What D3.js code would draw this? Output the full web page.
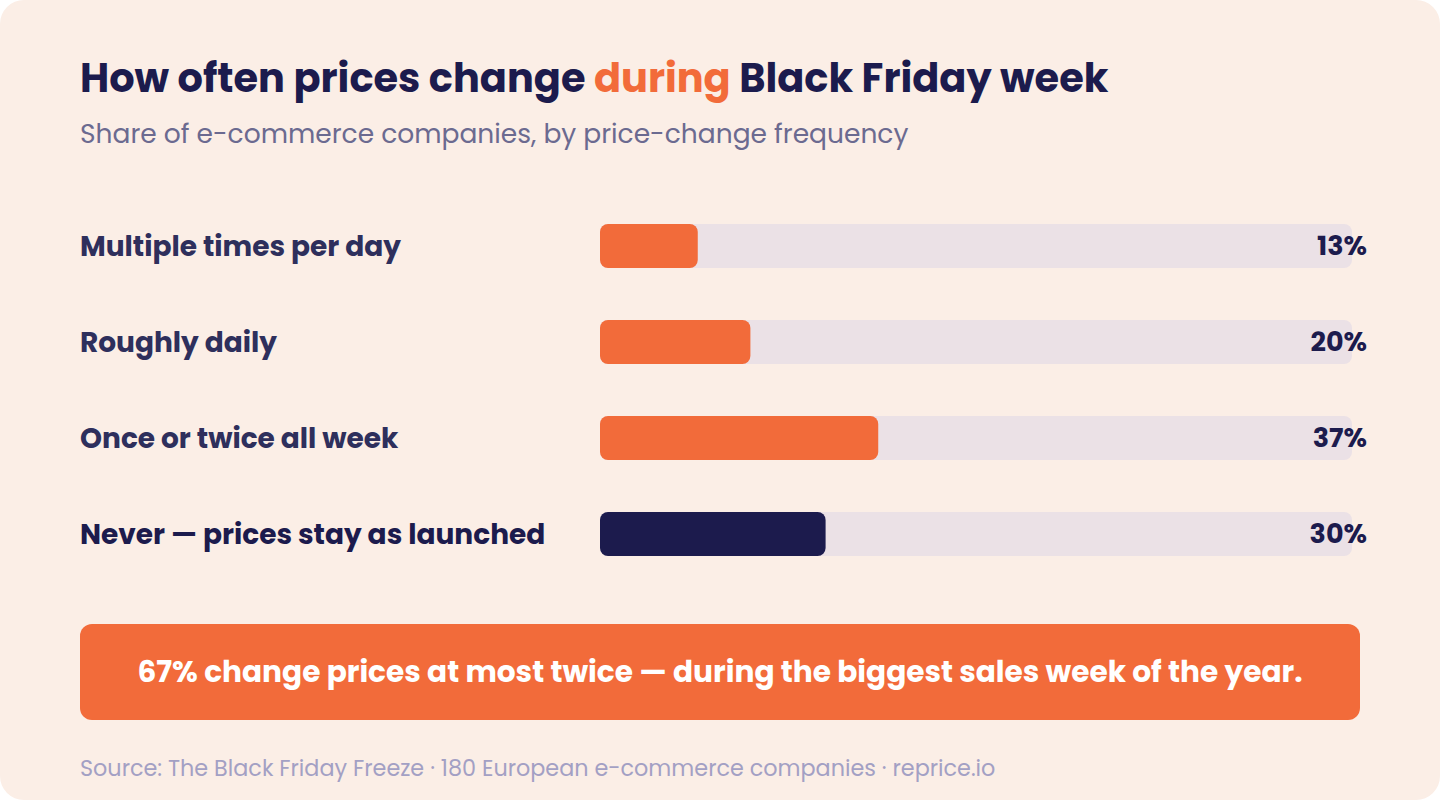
<!DOCTYPE html>
<html>
<head>
<meta charset="utf-8">
<script src="https://cdn.jsdelivr.net/npm/d3@7"></script>
<style>
  html, body { margin: 0; padding: 0; background: #ffffff; }
  svg { display: block; }
  text { font-family: Poppins, Inter, "Noto Sans", sans-serif; }
</style>
</head>
<body>
<script>
const categories = ["Multiple times per day", "Roughly daily", "Once or twice all week", "Never — prices stay as launched"];
const values = [13, 20, 37, 30];
const highlight = [false, false, false, true];
const titleParts = [["How often prices change ", "#1c1b4d"], ["during", "#f26b3a"], [" Black Friday week", "#1c1b4d"]];
const subtitle = "Share of e-commerce companies, by price-change frequency";
const callout = "67% change prices at most twice — during the biggest sales week of the year.";
const source = "Source: The Black Friday Freeze · 180 European e-commerce companies · reprice.io";

const W = 1440, H = 800;
const svg = d3.select("body").append("svg").attr("width", W).attr("height", H);

svg.append("rect").attr("x", 0).attr("y", 0).attr("width", W).attr("height", H)
  .attr("rx", 24).attr("fill", "#fbeee6");

// title
const title = svg.append("text").attr("x", 80).attr("y", 92)
  .attr("font-size", 39.9).attr("font-weight", 700);
title.selectAll("tspan").data(titleParts).join("tspan")
  .attr("fill", d => d[1]).text(d => d[0]);

svg.append("text").attr("x", 80).attr("y", 143)
  .attr("font-size", 26.5).attr("font-weight", 400).attr("fill", "#6b6a90").text(subtitle);

// scales
const x = d3.scaleLinear().domain([0, 100]).range([600, 1352]);
const y = d3.scalePoint().domain(categories).range([224, 224 + 96 * 3]);
const bh = 44;

const rows = svg.append("g").selectAll("g").data(categories).join("g")
  .attr("transform", d => `translate(0,${y(d)})`);

rows.append("rect").attr("x", x(0)).attr("y", 0).attr("width", x(100) - x(0)).attr("height", bh)
  .attr("rx", 8).attr("fill", "#ebe1e6");

rows.append("rect").attr("x", x(0)).attr("y", 0)
  .attr("width", (d, i) => x(values[i]) - x(0)).attr("height", bh)
  .attr("rx", 8).attr("fill", (d, i) => highlight[i] ? "#1c1b4d" : "#f26b3a");

rows.append("text").attr("x", 80).attr("y", bh / 2).attr("dy", "0.34em")
  .attr("font-size", 28).attr("font-weight", 700)
  .attr("fill", (d, i) => highlight[i] ? "#1c1b4d" : "#2e2f5c").text(d => d);

rows.append("text").attr("x", 1367).attr("y", bh / 2).attr("dy", "0.35em")
  .attr("text-anchor", "end").attr("font-size", 27).attr("font-weight", 700)
  .attr("fill", "#1c1b4d").text((d, i) => values[i] + "%");

// callout
svg.append("rect").attr("x", 80).attr("y", 624).attr("width", 1280).attr("height", 96)
  .attr("rx", 12).attr("fill", "#f26b3a");
svg.append("text").attr("x", 720).attr("y", 682).attr("text-anchor", "middle")
  .attr("font-size", 29.6).attr("font-weight", 700).attr("fill", "#ffffff").text(callout);

svg.append("text").attr("x", 80).attr("y", 776)
  .attr("font-size", 22.3).attr("font-weight", 400).attr("fill", "#a3a0c4").text(source);
</script>
</body>
</html>
